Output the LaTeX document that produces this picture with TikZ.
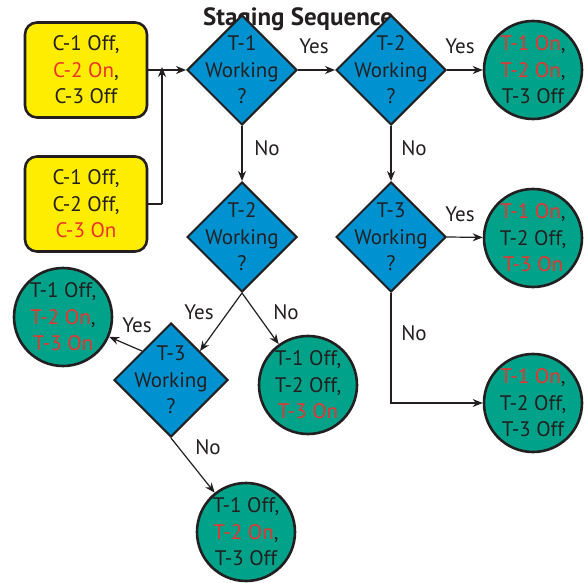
\documentclass[tikz,border=0pt]{standalone}
\usepackage{fontspec}
\setmainfont{PT Sans}
\usetikzlibrary{shapes.geometric,arrows.meta}

\definecolor{boxyellow}{RGB}{255,237,0}
\definecolor{diablue}{RGB}{0,146,208}
\definecolor{circgreen}{RGB}{0,163,137}
\definecolor{onred}{RGB}{237,50,45}
\definecolor{inkblack}{RGB}{35,31,32}

\newcommand{\on}[1]{\textcolor{onred}{#1}}

\tikzset{
    cbox/.style={draw=inkblack, line width=2.6pt, fill=boxyellow, rounded corners=12pt,
        minimum width=122pt, minimum height=95pt, align=center, text=inkblack},
    dia/.style={diamond, draw=inkblack, line width=2pt, fill=diablue, inner sep=0pt,
        minimum width=110pt, minimum height=110pt, text=inkblack},
    tcirc/.style={circle, draw=inkblack, line width=2.6pt, fill=circgreen, inner sep=0pt,
        minimum size=98pt, align=center, text=inkblack},
    lbl/.style={text=inkblack},
    arr/.style={-{Stealth[length=10pt,width=8pt]}, line width=1.2pt, draw=inkblack}
}

\begin{document}
\begin{tikzpicture}[x=1pt, y=-1pt, font=\fontsize{21}{26.5}\selectfont]
    \useasboundingbox (0,0) rectangle (587,583);

    % Titel (oben abgeschnitten)
    \node[anchor=base, text=inkblack, font=\fontsize{25}{28}\bfseries] (title) at (298,26) {Staging Sequence};

    % Kompressoren
    \node[cbox] (c1) at (86,70) {C-1 Off,\\\on{C-2 On},\\C-3 Off};
    \node[cbox] (c2) at (86,204) {C-1 Off,\\C-2 Off,\\\on{C-3 On}};

    % Abfragen
    \node[dia] (t1a) at (242,70) {};
    \node[lbl, align=center] at (t1a) {T-1\\Working\\?};
    \node[dia] (t2a) at (391,70) {};
    \node[lbl, align=center] at (t2a) {T-2\\Working\\?};
    \node[dia] (t2b) at (242,237) {};
    \node[lbl, align=center] at (t2b) {T-2\\Working\\?};
    \node[dia] (t3a) at (391,237) {};
    \node[lbl, align=center] at (t3a) {T-3\\Working\\?};
    \node[dia, minimum width=114pt, minimum height=114pt] (t3b) at (171,380) {};
    \node[lbl, align=center] at (t3b) {T-3\\Working\\?};

    % Ergebnisse
    \node[tcirc] (r1) at (533,70) {\on{T-1 On},\\\on{T-2 On},\\T-3 Off};
    \node[tcirc] (r2) at (533,238) {\on{T-1 On},\\T-2 Off,\\\on{T-3 On}};
    \node[tcirc] (r3) at (533,403) {\on{T-1 On},\\T-2 Off,\\T-3 Off};
    \node[tcirc] (r4) at (308,385) {T-1 Off,\\T-2 Off,\\\on{T-3 On}};
    \node[tcirc] (r5) at (63,317) {T-1 Off,\\\on{T-2 On},\\\on{T-3 On}};
    \node[tcirc] (r6) at (246,532) {T-1 Off,\\\on{T-2 On},\\T-3 Off};

    % Verbindungen
    \coordinate (j1) at (162,204);
    \coordinate (j2) at (162,70);
    \coordinate (j3) at (391,403);
    \draw[arr] (c1.east) -- (t1a.west);
    \draw[line width=1.2pt, draw=inkblack] (c2.east) -- (j1);
    \draw[arr] (j1) -- ([yshift=3pt]j2);
    \draw[arr] (t1a.east) -- (t2a.west);
    \draw[arr] (t2a.east) -- (r1);
    \draw[arr] (t1a.south) -- (t2b.north);
    \draw[arr] (t2a.south) -- (t3a.north);
    \draw[arr] (t3a.east) -- (r2);
    \draw[arr] (t3a.south) -- (j3) -- (r3);
    \draw[arr] (t2b.south) -- (t3b.north east);
    \draw[arr] (t2b.south) -- (r4);
    \draw[arr] (t3b.north west) -- (r5);
    \draw[arr] (t3b.south) -- (r6);

    % Beschriftungen
    \node[lbl] at (314,46) {Yes};
    \node[lbl] at (460,46) {Yes};
    \node[lbl] at (460,214) {Yes};
    \node[lbl] at (199,312) {Yes};
    \node[lbl] at (137,325) {Yes};
    \node[lbl] at (267,148) {No};
    \node[lbl] at (414,148) {No};
    \node[lbl] at (414,333) {No};
    \node[lbl] at (286,312) {No};
    \node[lbl] at (208,447) {No};
\end{tikzpicture}
\end{document}
